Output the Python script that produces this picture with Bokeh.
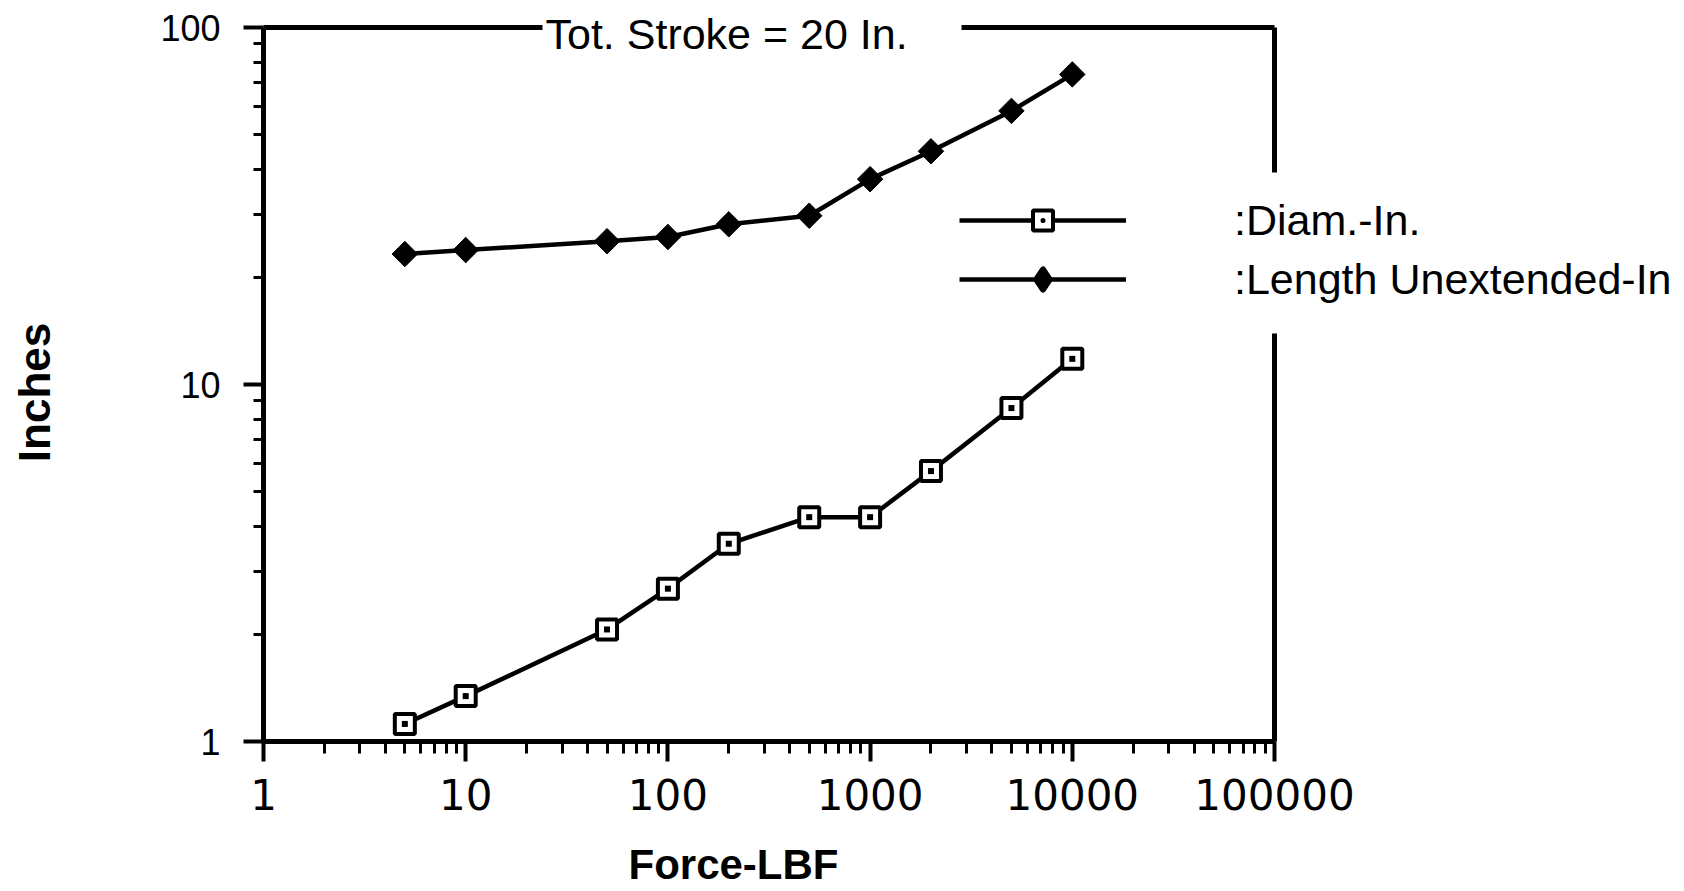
import numpy as np
from bokeh.plotting import figure
from bokeh.models import LogAxis, FixedTicker, Legend, LegendItem, Label, Range1d
from bokeh.embed import file_html
from bokeh.resources import INLINE

# ---- data ----
force_lbf = [5, 10, 50, 100, 200, 500, 1000, 2000, 5000, 10000]
diam_in = [1.12, 1.34, 2.06, 2.68, 3.58, 4.25, 4.25, 5.72, 8.59, 11.8]
length_in = [23.2, 23.8, 25.2, 25.9, 28.1, 29.7, 37.6, 45.0, 58.4, 73.9]

x_ticks = [1, 10, 100, 1000, 10000, 100000]
x_tick_labels = ["1", "10", "100", "1000", "10000", "100000"]
y_ticks = [1, 10, 100]
y_tick_labels = ["1", "10", "100"]

series_labels = [":Diam.-In.", ":Length Unextended-In"]
note_text = "Tot. Stroke = 20 In."
x_title = "Force-LBF"
y_title = "Inches"

# ---- layout (pixels) ----
W, H = 1676, 891
X0_PX, X_DEC_PX = 263, 202.2      # pixel column of x=1, pixels per decade
Y0_PX, Y_DEC_PX = 741, 357        # pixel row of y=1, pixels per decade


def data_x(px):
    return 10 ** ((px - X0_PX) / X_DEC_PX)


def data_y(py):
    return 10 ** ((Y0_PX - py) / Y_DEC_PX)


X_MIN, X_MAX = x_ticks[0], x_ticks[-1]
Y_MIN, Y_MAX = y_ticks[0], y_ticks[-1]

FONT = "Liberation Sans"

p = figure(width=W, height=H, x_axis_type="log", y_axis_type="log",
           x_range=Range1d(data_x(0), data_x(W)), y_range=Range1d(data_y(H), data_y(0)),
           output_backend="svg", toolbar_location=None,
           min_border_left=0, min_border_right=0, min_border_top=0, min_border_bottom=0)
p.outline_line_color = None
p.grid.visible = False
p.background_fill_color = "white"
p.border_fill_color = "white"

minor_x = [m * 10 ** k for k in range(5) for m in range(2, 10)]
minor_y = [m * 10 ** k for k in range(2) for m in range(2, 10)]

xa = p.xaxis[0]
ya = p.yaxis[0]
xa.ticker = FixedTicker(ticks=x_ticks, minor_ticks=minor_x)
ya.ticker = FixedTicker(ticks=y_ticks, minor_ticks=minor_y)
xa.major_label_overrides = dict(zip(x_ticks, x_tick_labels))
ya.major_label_overrides = dict(zip(y_ticks, y_tick_labels))
xa.fixed_location = Y_MIN
ya.fixed_location = X_MIN
xa.bounds = (X_MIN, X_MAX)
ya.bounds = (Y_MIN, Y_MAX)

for ax in (xa, ya):
    ax.axis_line_width = 5
    ax.axis_line_color = "black"
    ax.major_tick_line_width = 4
    ax.major_tick_line_color = "black"
    ax.minor_tick_line_width = 3
    ax.minor_tick_line_color = "black"
    ax.major_tick_in = 0
    ax.minor_tick_in = 0
    ax.major_tick_out = 20
    ax.major_label_text_color = "black"

xa.minor_tick_out = 12
ya.minor_tick_out = 10
xa.major_label_text_font = "DejaVu Sans"
xa.major_label_text_font_size = "42px"
ya.major_label_text_font = FONT
ya.major_label_text_font_size = "36px"
xa.major_label_standoff = 17
ya.major_label_standoff = 23

# frame lines on top and right (with the gaps of the original)
frame_segments = [
    ("above", Y_MAX, (X_MIN, data_x(542))),
    ("above", Y_MAX, (data_x(961), X_MAX)),
    ("right", X_MAX, (data_y(172), Y_MAX)),
    ("right", X_MAX, (Y_MIN, data_y(333))),
]
for side, loc, bnds in frame_segments:
    ax = LogAxis(ticker=FixedTicker(ticks=[]), axis_line_width=5, axis_line_color="black",
                 major_tick_out=0, major_tick_in=0, minor_tick_out=0, minor_tick_in=0,
                 major_tick_line_color=None, minor_tick_line_color=None,
                 major_label_text_font_size="0px", major_label_standoff=0,
                 fixed_location=loc, bounds=bnds)
    p.add_layout(ax, side)

# data
l_diam = p.line(force_lbf, diam_in, line_width=4.5, line_color="black", line_join="round")
s_diam = p.scatter(force_lbf, diam_in, marker="square_dot", size=20,
                   fill_color="white", line_color="black", line_width=4)
s_diam_dot = p.scatter(force_lbf, diam_in, marker="square", size=6,
                       fill_color="black", line_color=None)
l_len = p.line(force_lbf, length_in, line_width=4.5, line_color="black", line_join="round")
s_len = p.scatter(force_lbf, length_in, marker="square", angle=np.pi / 4, size=18,
                  fill_color="black", line_color="black", line_width=1)
s_len_key = p.scatter(force_lbf, length_in, marker="diamond", size=20,
                      fill_color="black", line_color="black", line_width=6,
                      line_join="round", visible=False)

legend = Legend(items=[LegendItem(label=series_labels[0], renderers=[l_diam, s_diam]),
                       LegendItem(label=series_labels[1], renderers=[l_len, s_len_key])],
                location=(959, H - 304), glyph_width=167, glyph_height=50, label_height=50,
                spacing=9, label_standoff=108, padding=0, margin=0,
                border_line_color=None, background_fill_alpha=0.0,
                label_text_font=FONT, label_text_font_size="43px", label_text_color="black")
p.add_layout(legend)

note = Label(x=data_x(545), y=data_y(33), text=note_text,
             text_font=FONT, text_font_size="43px", text_color="black",
             text_align="left", text_baseline="middle")
p.add_layout(note)

xlab = Label(x=data_x(733), y=data_y(864), text=x_title, text_font=FONT,
             text_font_size="42px", text_font_style="bold", text_color="black",
             text_align="center", text_baseline="middle")
ylab = Label(x=data_x(34), y=data_y(392), text=y_title, text_font=FONT, angle=np.pi / 2,
             text_font_size="44px", text_font_style="bold", text_color="black",
             text_align="center", text_baseline="middle")
p.add_layout(xlab)
p.add_layout(ylab)

open("out.html", "w").write(file_html(p, INLINE))
